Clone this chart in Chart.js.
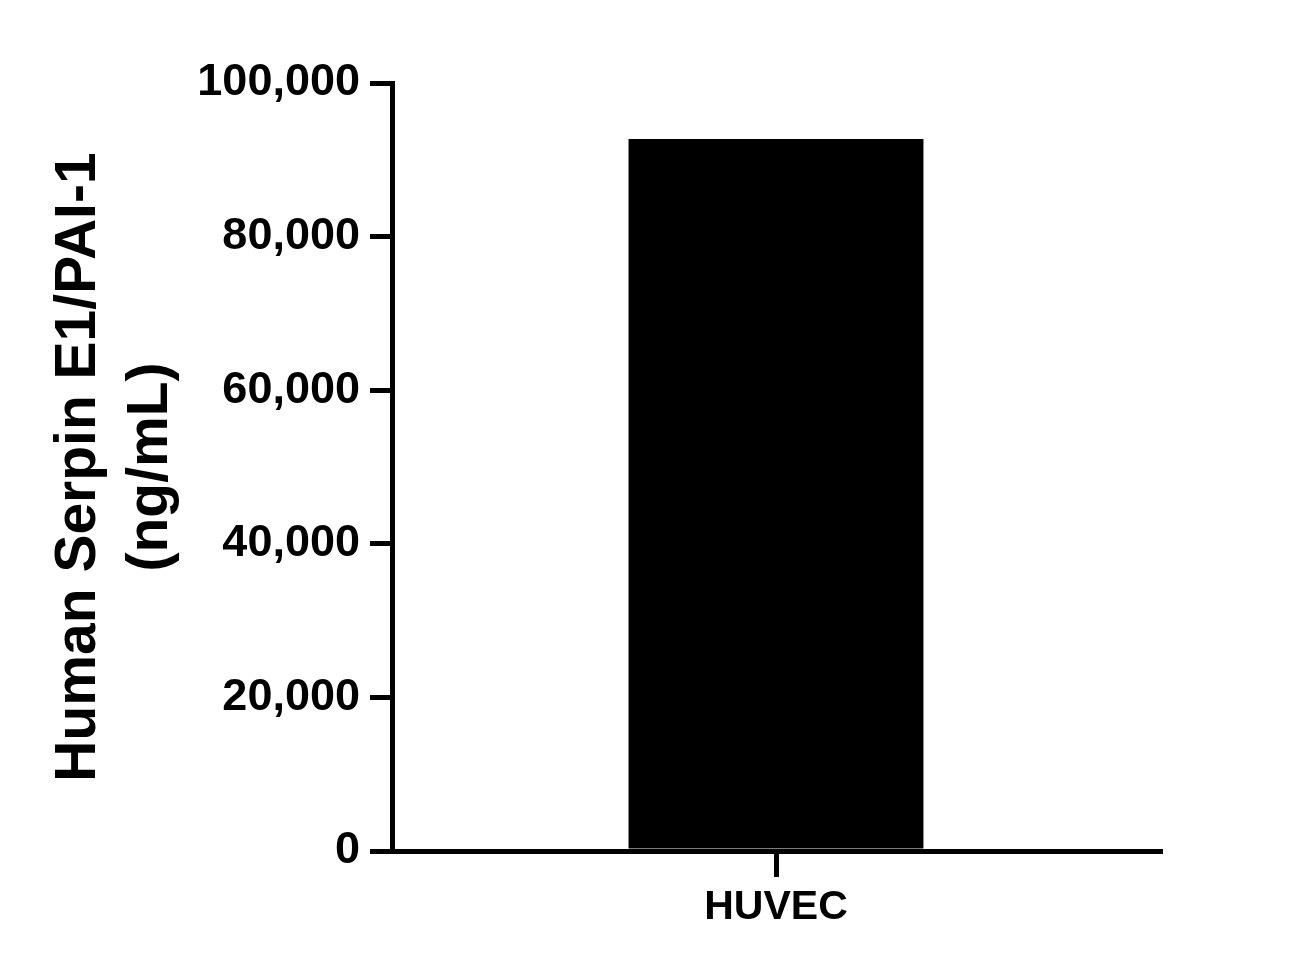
<!DOCTYPE html>
<html>
<head>
<meta charset="utf-8">
<script src="https://cdn.jsdelivr.net/npm/chart.js@4/dist/chart.umd.min.js"></script>
<style>
  html, body { margin: 0; padding: 0; background: #ffffff; }
  #wrap { width: 1298px; height: 967px; position: relative; }
</style>
</head>
<body>
<div id="wrap"><canvas id="c" width="1298" height="967"></canvas></div>
<script>
const categories = ["HUVEC"];
const values = [92700];
const yTickValues = [0, 20000, 40000, 60000, 80000, 100000];
const yTitle = ["Human Serpin E1/PAI-1", "(ng/mL)"];

const FONT = "'Liberation Sans', Arial, Helvetica, sans-serif";

const chart = new Chart(document.getElementById('c'), {
  type: 'bar',
  data: {
    labels: categories,
    datasets: [{
      data: values,
      backgroundColor: '#000000',
      borderWidth: 0,
      categoryPercentage: 1,
      barPercentage: 0.384
    }]
  },
  options: {
    responsive: false,
    animation: false,
    devicePixelRatio: 1,
    layout: { padding: { top: 83, right: 138, bottom: 0, left: 0 } },
    plugins: { legend: { display: false }, tooltip: { enabled: false } },
    scales: {
      x: {
        grid: { offset: false, drawOnChartArea: false, drawTicks: true, tickLength: 26, color: '#000', tickColor: '#000', lineWidth: 5 },
        border: { display: true, color: '#000', width: 5 },
        ticks: { color: '#000', font: { family: FONT, size: 41, weight: 'bold' }, padding: 6, maxRotation: 0 },
        afterFit(scale) { scale.height = 116; }
      },
      y: {
        min: 0,
        max: 100000,
        afterBuildTicks(scale) { scale.ticks = yTickValues.map(v => ({ value: v })); },
        grid: { drawOnChartArea: false, drawTicks: true, tickLength: 22, color: '#000', tickColor: '#000', lineWidth: 5 },
        border: { display: true, color: '#000', width: 5 },
        ticks: {
          color: '#000',
          font: { family: FONT, size: 45, weight: 'bold' },
          padding: 10,
          callback: (v) => Number(v).toLocaleString('en-US')
        },
        title: {
          display: true,
          text: yTitle,
          color: '#000',
          font: { family: FONT, size: 57, weight: 'bold', lineHeight: 1.25 },
          padding: { top: 44, bottom: 0 }
        },
        afterFit(scale) { scale.width = 392; }
      }
    }
  }
});
</script>
</body>
</html>
